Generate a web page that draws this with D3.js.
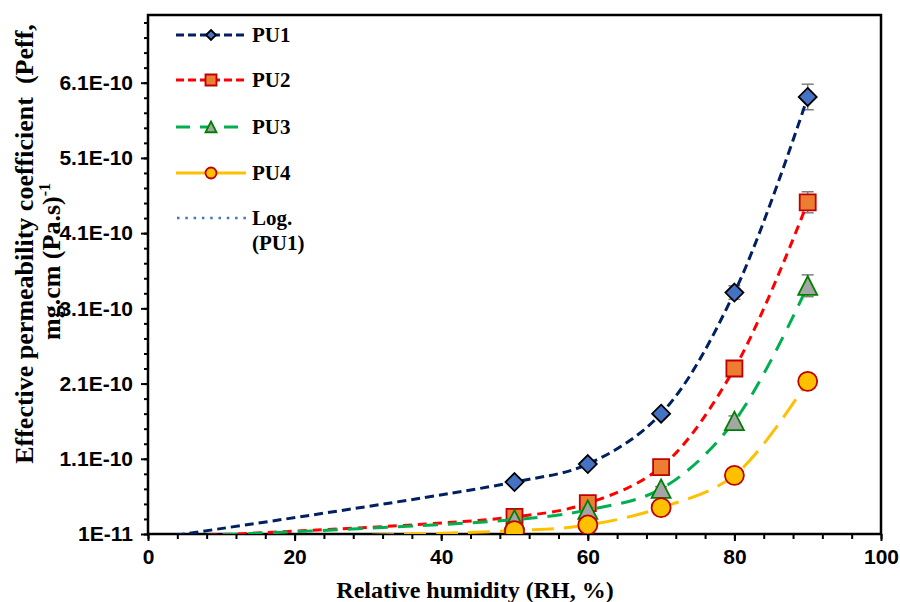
<!DOCTYPE html>
<html>
<head>
<meta charset="utf-8">
<script src="https://cdnjs.cloudflare.com/ajax/libs/d3/7.8.5/d3.min.js"></script>
<style>
body { margin: 0; background: #fff; }
svg { display: block; font-family: "Liberation Serif", "Times New Roman", serif; font-weight: bold; }
</style>
</head>
<body>
<svg width="900" height="602"></svg>
<script>
// data
var rh = [50, 60, 70, 80, 90];
var pu1 = [7.9e-11, 1.03e-10, 1.70e-10, 3.31e-10, 5.91e-10];
var pu2 = [3.27e-11, 5.1e-11, 9.9e-11, 2.30e-10, 4.51e-10];
var pu3 = [2.9e-11, 4.2e-11, 7.0e-11, 1.60e-10, 3.40e-10];
var pu4 = [1.44e-11, 2.2e-11, 4.5e-11, 8.8e-11, 2.13e-10];
// error bar half-widths
var err1 = [0.2e-11, 0.3e-11, 0.4e-11, 0.9e-11, 1.7e-11];
var err2 = [0.2e-11, 0.3e-11, 0.4e-11, 0.6e-11, 1.4e-11];
var err3 = [0.2e-11, 0.3e-11, 0.3e-11, 0.7e-11, 1.45e-11];
var err4 = [0.2e-11, 0.2e-11, 0.3e-11, 0.5e-11, 0.8e-11];
// where each smoothed line starts (RH 0, below the axis minimum)
var startRH = 0;
var startVals = [0.3e-11, 0.5e-11, 0.5e-11, 0.2e-11];

var seriesNames = ["PU1", "PU2", "PU3", "PU4"];
var yTickLabels = ["1E-11", "1.1E-10", "2.1E-10", "3.1E-10", "4.1E-10", "5.1E-10", "6.1E-10"];
var xTickLabels = ["0", "20", "40", "60", "80", "100"];

var svg = d3.select("svg");

var plotLeft = 148, plotRight = 881, plotTop = 15, plotBottom = 534;

var x = d3.scaleLinear().domain([0, 100]).range([plotLeft, plotRight]);
var y = d3.scaleLinear().domain([1e-11, 7.0e-10]).range([plotBottom, plotTop]);

// series styles
var styles = [
    { line: "#002060", dash: "9,5", fill: "#4472C4", stroke: "#000000", shape: "diamond", size: 18, lsize: 10 },
    { line: "#FF0000", dash: "9,6", fill: "#ED7D31", stroke: "#C00000", shape: "square", size: 16, lsize: 11 },
    { line: "#00B050", dash: "15,10", fill: "#A5A5A5", stroke: "#008000", shape: "triangle", size: 19, lsize: 11 },
    { line: "#FFC000", dash: "22,10", fill: "#FFC000", stroke: "#C00000", shape: "circle", size: 19, lsize: 11 }
];

var values = [pu1, pu2, pu3, pu4];
var errors = [err1, err2, err3, err4];

function markerPath(shape, s) {
    var h = s / 2;
    if (shape == "diamond") return "M0," + (-h) + "L" + h + ",0L0," + h + "L" + (-h) + ",0Z";
    if (shape == "square") return "M" + (-h) + "," + (-h) + "h" + s + "v" + s + "h" + (-s) + "Z";
    if (shape == "triangle") return "M0," + (-h) + "L" + h + "," + (h * 0.95) + "L" + (-h) + "," + (h * 0.95) + "Z";
    return d3.symbol(d3.symbolCircle, Math.PI * h * h)();
}

svg.append("defs").append("clipPath").attr("id", "plotclip")
    .append("rect").attr("x", plotLeft).attr("y", plotTop)
    .attr("width", plotRight - plotLeft).attr("height", plotBottom - plotTop);

//////////// AXES ////////////

// minor ticks
var yMinor = d3.range(0, 35).map(function (i) { return 1e-11 + i * 2e-11; });
svg.append("g")
    .attr("transform", "translate(" + plotLeft + ",0)")
    .call(d3.axisLeft(y).tickValues(yMinor).tickSize(4).tickFormat(""))
    .call(function (g) { g.select(".domain").remove(); })
    .selectAll("line").attr("stroke", "#000").attr("stroke-width", 2);

var xMinor = d3.range(0, 101, 4);
svg.append("g")
    .attr("transform", "translate(0," + plotBottom + ")")
    .call(d3.axisBottom(x).tickValues(xMinor).tickSize(5).tickFormat(""))
    .call(function (g) { g.select(".domain").remove(); })
    .selectAll("line").attr("stroke", "#000").attr("stroke-width", 2);

// major ticks + labels
var yAxis = svg.append("g")
    .attr("transform", "translate(" + plotLeft + ",0)")
    .call(d3.axisLeft(y).tickValues(yTickLabels.map(Number)).tickSize(7).tickPadding(8)
        .tickFormat(function (d, i) { return yTickLabels[i]; }));
yAxis.select(".domain").remove();
yAxis.selectAll("line").attr("stroke", "#000").attr("stroke-width", 2);
yAxis.selectAll("text").attr("font-size", 21).attr("font-family", null).attr("fill", "#000");

var xAxis = svg.append("g")
    .attr("transform", "translate(0," + plotBottom + ")")
    .call(d3.axisBottom(x).tickValues(xTickLabels.map(Number)).tickSize(7).tickPadding(8)
        .tickFormat(function (d, i) { return xTickLabels[i]; }));
xAxis.select(".domain").remove();
xAxis.selectAll("line").attr("stroke", "#000").attr("stroke-width", 2);
xAxis.selectAll("text").attr("font-size", 21).attr("font-family", null).attr("fill", "#000");

// plot frame
svg.append("rect")
    .attr("x", plotLeft).attr("y", plotTop)
    .attr("width", plotRight - plotLeft).attr("height", plotBottom - plotTop)
    .attr("fill", "none").attr("stroke", "#000").attr("stroke-width", 2.5);

//////////// SERIES ////////////

var plot = svg.append("g").attr("clip-path", "url(#plotclip)");

var lineGen = d3.line()
    .x(function (d) { return x(d[0]); })
    .y(function (d) { return y(d[1]); })
    .curve(d3.curveCatmullRom.alpha(0.5));

values.forEach(function (vals, s) {
    var st = styles[s];
    var g = plot.append("g");

    // error bars
    rh.forEach(function (r, i) {
        var e = errors[s][i];
        var cx = x(r);
        g.append("line").attr("x1", cx).attr("x2", cx)
            .attr("y1", y(vals[i] - e)).attr("y2", y(vals[i] + e))
            .attr("stroke", "#7F7F7F").attr("stroke-width", 1.5);
        [vals[i] - e, vals[i] + e].forEach(function (v) {
            g.append("line").attr("x1", cx - 6).attr("x2", cx + 6)
                .attr("y1", y(v)).attr("y2", y(v))
                .attr("stroke", "#7F7F7F").attr("stroke-width", 1.5);
        });
    });

    var pts = [[startRH, startVals[s]]].concat(rh.map(function (r, i) { return [r, vals[i]]; }));
    g.append("path")
        .attr("d", lineGen(pts))
        .attr("fill", "none")
        .attr("stroke", st.line)
        .attr("stroke-width", 3)
        .attr("stroke-dasharray", st.dash);

    g.selectAll(".mk")
        .data(rh)
        .enter().append("path")
        .attr("transform", function (r, i) { return "translate(" + x(r) + "," + y(vals[i]) + ")"; })
        .attr("d", markerPath(st.shape, st.size))
        .attr("fill", st.fill)
        .attr("stroke", st.stroke)
        .attr("stroke-width", 1.8);
});

//////////// LEGEND ////////////

var legendY = [35, 80, 127, 173];
var legend = svg.append("g");
seriesNames.forEach(function (name, s) {
    var st = styles[s];
    var ly = legendY[s];
    legend.append("line")
        .attr("x1", 176).attr("x2", 246).attr("y1", ly).attr("y2", ly)
        .attr("stroke", st.line).attr("stroke-width", 3)
        .attr("stroke-dasharray", s == 3 ? null : (s == 2 ? "14,10" : "8,4"));
    legend.append("path")
        .attr("transform", "translate(211," + ly + ")")
        .attr("d", markerPath(st.shape, st.lsize))
        .attr("fill", st.fill).attr("stroke", st.stroke).attr("stroke-width", 1.8);
    legend.append("text")
        .attr("x", 252).attr("y", ly + 7)
        .attr("font-size", 21)
        .text(name);
});
legend.append("line")
    .attr("x1", 177).attr("x2", 246).attr("y1", 218).attr("y2", 218)
    .attr("stroke", "#4472C4").attr("stroke-width", 2.5)
    .attr("stroke-dasharray", "2.5,5.8");
legend.append("text").attr("x", 252).attr("y", 225).attr("font-size", 21).text("Log.");
legend.append("text").attr("x", 252).attr("y", 250).attr("font-size", 21).text("(PU1)");

//////////// TITLES ////////////

svg.append("text")
    .attr("x", 475).attr("y", 598)
    .attr("text-anchor", "middle")
    .attr("font-size", 24)
    .text("Relative humidity (RH, %)");

svg.append("text")
    .attr("transform", "translate(33,244) rotate(-90)")
    .attr("text-anchor", "middle")
    .attr("font-size", 26)
    .attr("xml:space", "preserve")
    .text("Effective permeability coefficient  (Peff,");

var yl2 = svg.append("text")
    .attr("transform", "translate(60,340) rotate(-90)")
    .attr("text-anchor", "start")
    .attr("font-size", 26);
yl2.append("tspan").text("mg.cm (Pa.s)");
yl2.append("tspan").attr("dy", -10).attr("font-size", 16).text("-1");
</script>
</body>
</html>
